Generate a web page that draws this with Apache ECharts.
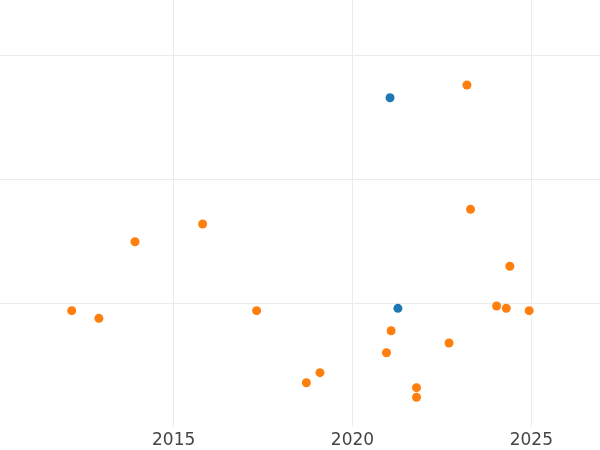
<!DOCTYPE html>
<html>
<head>
<meta charset="utf-8">
<script src="https://cdn.jsdelivr.net/npm/echarts@6/dist/echarts.min.js"></script>
<style>html,body{margin:0;padding:0;background:#fff;}#c{width:600px;height:450px;}</style>
</head>
<body>
<div id="c"></div>
<script>
// Fractional years and values (y axis units unlabeled in the reference)
var orangeYears = [2012.15, 2012.91, 2013.92, 2015.81, 2017.32, 2018.71, 2019.09, 2020.95, 2021.08, 2021.79, 2021.79, 2022.70, 2023.20, 2023.30, 2024.03, 2024.30, 2024.40, 2024.94];
var orangeValues = [0.94, 0.878, 1.497, 1.64, 0.94, 0.358, 0.439, 0.60, 0.778, 0.318, 0.24, 0.679, 2.764, 1.759, 0.978, 0.959, 1.299, 0.94];
var blueYears = [2021.05, 2021.27];
var blueValues = [2.661, 0.959];
var xTicks = [2015, 2020, 2025];
var yTicks = [1, 2, 3];
var xRange = [2010.145, 2026.92];
var yRange = [0, 3.4505];

function pairs(xs, ys) { return xs.map(function (x, i) { return [x, ys[i]]; }); }

var chart = echarts.init(document.getElementById('c'), null, {renderer: 'canvas'});
chart.setOption({
  animation: false,
  backgroundColor: '#ffffff',
  grid: {left: 0, right: 0, top: 0, bottom: 23, containLabel: false},
  xAxis: {
    type: 'value', min: xRange[0], max: xRange[1],
    axisLine: {show: false},
    axisTick: {show: false, customValues: xTicks},
    axisLabel: {
      show: true, color: '#444444', fontSize: 17, fontFamily: 'DejaVu Sans', margin: 5,
      customValues: xTicks,
      formatter: function (v) { return String(v); }
    },
    splitLine: {show: true, lineStyle: {color: '#ebebeb', width: 1}}
  },
  yAxis: {
    type: 'value', min: yRange[0], max: yRange[1],
    axisLine: {show: false},
    axisTick: {show: false, customValues: yTicks},
    axisLabel: {show: false, customValues: yTicks},
    splitLine: {show: true, lineStyle: {color: '#ebebeb', width: 1}}
  },
  series: [
    {type: 'scatter', data: pairs(blueYears, blueValues), symbolSize: 9, itemStyle: {color: '#1f77b4', opacity: 1}, z: 3},
    {type: 'scatter', data: pairs(orangeYears, orangeValues), symbolSize: 9, itemStyle: {color: '#ff7f0e', opacity: 1}, z: 2}
  ]
});
</script>
</body>
</html>
